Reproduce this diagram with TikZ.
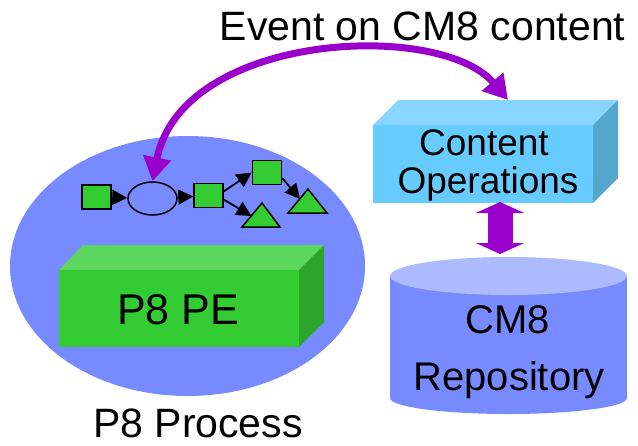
\documentclass[tikz,border=0pt]{standalone}
\usepackage{fontspec}
\setmainfont{Liberation Sans}
\usetikzlibrary{arrows.meta,shapes.geometric}
\definecolor{ellblue}{RGB}{120,138,255}
\definecolor{cylbody}{RGB}{120,138,255}
\definecolor{cyltopc}{RGB}{172,186,255}
\definecolor{pgreen}{RGB}{51,204,51}
\definecolor{pgreentop}{RGB}{92,214,92}
\definecolor{pgreenside}{RGB}{44,165,44}
\definecolor{cofront}{RGB}{102,204,255}
\definecolor{cotop}{RGB}{136,214,255}
\definecolor{coside}{RGB}{85,166,204}
\definecolor{evpurple}{RGB}{153,0,204}
\begin{document}
\begin{tikzpicture}[x=1pt,y=-1pt,
  bigtext/.style={font=\fontsize{41}{41}\selectfont, anchor=base, inner sep=0},
  midtext/.style={font=\fontsize{37}{37}\selectfont, anchor=base, inner sep=0},
  wfbox/.style={draw=black, line width=1.5pt, fill=pgreen, minimum width=29pt, minimum height=24pt, inner sep=0},
  wfevent/.style={draw=black, line width=1.5pt, ellipse, minimum width=49pt, minimum height=33pt, inner sep=0},
  wftri/.style={draw=black, line width=1.5pt, fill=pgreen, line join=miter},
  wfarrow/.style={draw=black, line width=1.8pt, -{Triangle[length=15pt,width=15pt]}},
  evarrow/.style={draw=evpurple, line width=7pt, {Triangle[length=24pt,width=27pt]}-{Triangle[length=24pt,width=27pt]}},
  dblarrow/.style={draw=evpurple, line width=25pt, {Triangle[length=11pt,width=48pt]}-{Triangle[length=11pt,width=48pt]}}
]
\useasboundingbox (0,0) rectangle (638,445);

% big process ellipse
\node[ellipse, fill=ellblue, minimum width=355pt, minimum height=260pt, inner sep=0] (proc) at (187.5,266) {};

% P8 PE box
\fill[pgreentop] (59,270) -- (83,245) -- (324,245) -- (299,270) -- cycle;
\fill[pgreenside] (299,270) -- (324,245) -- (324,322) -- (299,347) -- cycle;
\node[fill=pgreen, minimum width=240pt, minimum height=77pt, inner sep=0] (pe) at (179,308.5) {};
\node[bigtext, font=\fontsize{43}{43}\selectfont] (petext) at (178,324) {P8 PE};

% workflow
\node[wfbox] (s1) at (96.5,197) {};
\node[wfevent] (e1) at (152.5,198.5) {};
\node[wfbox] (s2) at (208.5,195.5) {};
\node[wfbox] (s3) at (267,172.5) {};
\draw[wftri] (262,203) -- (280,227) -- (242,227) -- cycle;
\draw[wftri] (308,189) -- (327,213) -- (288,213) -- cycle;
\coordinate (t1) at (251.5,216);
\coordinate (t2) at (300,199);
\draw[wfarrow] (s1) -- (e1);
\draw[wfarrow] (e1) -- (s2);
\draw[wfarrow] (s2.15) -- (s3.west);
\draw[wfarrow] (s2.-15) -- (t1);
\draw[wfarrow] (s3.-20) -- (t2);

\node[bigtext] (proctext) at (198,437) {P8 Process};

% Content Operations box
\fill[cotop] (373,125) -- (398,100) -- (618,100) -- (593,125) -- cycle;
\fill[coside] (593,125) -- (618,100) -- (618,178) -- (593,203) -- cycle;
\node[fill=cofront, minimum width=220pt, minimum height=78pt, inner sep=0] (co) at (483,164) {};
\node[midtext] (cotext1) at (484,155) {Content};
\node[midtext] (cotext2) at (488,193) {Operations};

% CM8 repository cylinder
\fill[cylbody] (390,276) rectangle (627,398);
\fill[cylbody] (508.5,398) ellipse [x radius=118.5pt, y radius=16pt];
\fill[cyltopc] (508.5,276) ellipse [x radius=118.5pt, y radius=19pt];
\node[bigtext, font=\fontsize{40}{40}\selectfont] (cmtext1) at (508,333) {CM8};
\node[bigtext, font=\fontsize{40}{40}\selectfont] (cmtext2) at (509,390) {Repository};

% double arrow between Content Operations and repository
\coordinate (dA) at (500,202);
\coordinate (dB) at (500,254);
\draw[dblarrow] (dA) -- (dB);

% event arc
\coordinate (arcB) at (508,100);
\draw[evarrow] (e1.north) .. controls (182,32) and (440,20) .. (arcB);

\node[bigtext] (title) at (422.5,40) {Event on CM8 content};
\end{tikzpicture}
\end{document}
